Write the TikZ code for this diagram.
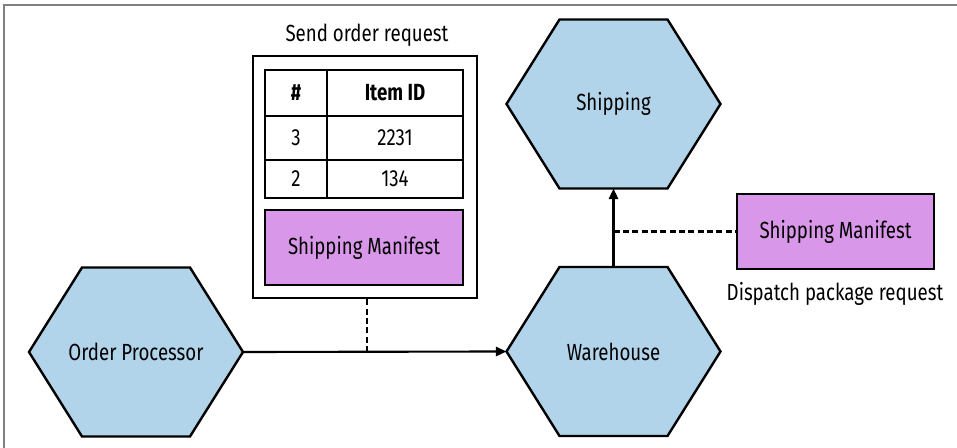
\documentclass[tikz,border=0pt]{standalone}
\usepackage{fontspec}
\setmainfont{Fira Sans}[FakeStretch=0.8]
\usetikzlibrary{arrows.meta}
\definecolor{hexblue}{HTML}{B1D4EA}
\definecolor{manipurple}{HTML}{D897E8}
\definecolor{framegray}{HTML}{808080}
\tikzset{
  hexshape/.style={draw=black, fill=hexblue, line width=1.8pt, line join=miter},
  boxline/.style={draw=black, line width=1.8pt, inner sep=0pt},
  manibox/.style={boxline, fill=manipurple},
  txt/.style={font=\fontsize{17.5}{20}\selectfont, inner sep=0pt},
  conn/.style={line width=1.6pt, -{Triangle[length=8pt,width=7pt]}},
  dashconn/.style={line width=1.6pt, dash pattern=on 4.5pt off 2.5pt},
}
\newcommand{\hexagonat}[4]{%
  \path[hexshape] (#2-107,#3) -- (#2-54,#3-84.5) -- (#2+54,#3-84.5) -- (#2+107,#3)
     -- (#2+54,#3+84.5) -- (#2-54,#3+84.5) -- cycle;
  \node[txt] (#1) at (#2,#3) {#4};
  \coordinate (#1L) at (#2-107,#3);
  \coordinate (#1R) at (#2+107,#3);
  \coordinate (#1T) at (#2,#3-84.5);
  \coordinate (#1B) at (#2,#3+84.5);
}
\begin{document}
\begin{tikzpicture}[x=0.75pt,y=-0.75pt]
\useasboundingbox (0,0) rectangle (957,448);
% frame (top and left)
\draw[framegray, line width=1.2pt] (4,448) -- (4,5) -- (957,5);
% hexagons
\hexagonat{op}{136}{352}{Order Processor}
\hexagonat{wh}{613.5}{351.5}{Warehouse}
\hexagonat{sh}{613.5}{104}{Shipping}
% request envelope
\node[txt] (reqlabel) at (367,35) {Send order request};
\node[boxline, minimum width=168pt, minimum height=181.5pt] (req) at (365,177) {};
% table cells
\node[boxline, minimum width=46.5pt, minimum height=34.5pt, txt] (h1) at (296,93) {\textbf{\#}};
\node[boxline, minimum width=102pt, minimum height=34.5pt, txt] (h2) at (395,93) {\textbf{Item ID}};
\node[boxline, minimum width=46.5pt, minimum height=33pt, txt] (r1a) at (296,138) {3};
\node[boxline, minimum width=102pt, minimum height=33pt, txt] (r1b) at (395,138) {2231};
\node[boxline, minimum width=46.5pt, minimum height=28.5pt, txt] (r2a) at (296,179) {2};
\node[boxline, minimum width=102pt, minimum height=28.5pt, txt] (r2b) at (395,179) {134};
\node[manibox, minimum width=148.5pt, minimum height=56.25pt, txt] (mani1) at (364,247.5) {Shipping Manifest};
% dispatch request
\node[manibox, minimum width=147.75pt, minimum height=56.25pt, txt] (mani2) at (835.5,231.5) {Shipping Manifest};
\node[txt] (displabel) at (835,294) {Dispatch package request};
% connectors
\coordinate (j1) at (367,352);
\coordinate (j2) at (613.5,231.5);
\draw[conn] (opR) -- (whL);
\draw[conn] (whT) -- (shB);
\draw[dashconn] (req.south -| j1) -- (j1);
\draw[dashconn] (j2) -- (mani2.west);
\end{tikzpicture}
\end{document}
